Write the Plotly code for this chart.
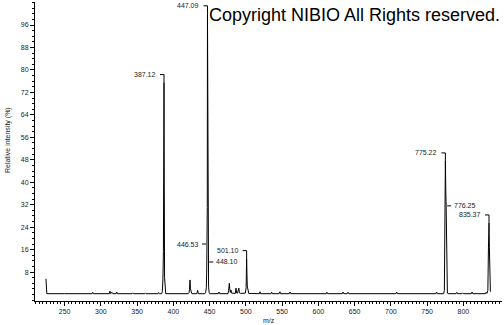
import plotly.graph_objects as go

# spectrum data (m/z, relative intensity %)
mz = [224.3, 224.9, 225.5, 250.0, 287.9, 288.8, 289.7, 311.7, 312.6, 313.4, 315.5, 316.5,
      321.2, 322.0, 322.8, 343.0, 344.0, 345.0, 360.5, 361.5, 362.5, 378.6, 379.6, 380.6,
      383.8, 384.8, 385.6, 386.3, 386.7, 387.12, 387.5, 387.9, 388.6, 389.5,
      420.5, 421.6, 422.3, 423.0, 423.6, 424.4, 425.5, 432.5, 433.5, 434.5,
      443.5, 444.6, 445.5, 446.0, 446.53, 446.8, 447.09, 447.4, 447.8, 448.10, 448.6, 449.3, 450.2,
      462.0, 463.0, 464.0, 475.4, 476.3, 477.2, 477.8, 478.6, 479.5, 480.3,
      485.5, 486.4, 487.2, 488.5, 490.3, 491.2, 493.0,
      499.3, 500.4, 500.8, 501.10, 501.5, 502.0, 502.8, 504.0,
      518.8, 519.6, 520.4, 534.8, 535.6, 536.4, 546.0, 547.0, 548.0, 560.0, 561.0, 562.0,
      611.0, 611.8, 612.6, 633.0, 634.0, 635.0, 640.0, 641.0, 642.0, 707.0, 708.0, 709.0,
      762.0, 763.0, 764.0, 772.8, 773.8, 774.6, 775.22, 775.7, 776.25, 776.7, 777.2, 778.0, 779.0,
      790.0, 791.0, 792.0, 798.0, 799.0, 800.0, 811.0, 812.0, 813.0,
      830.5, 831.5, 832.5, 833.8, 834.6, 835.37, 835.9, 836.5, 837.3]
intensity = [5.6, 2.6, 0.3, 0.3, 0.3, 0.8, 0.3, 0.3, 1.2, 0.3, 0.8, 0.3,
             0.3, 0.9, 0.3, 0.3, 0.6, 0.3, 0.3, 0.6, 0.3, 0.3, 0.7, 0.3,
             0.3, 1.0, 5.2, 15.3, 40.0, 75.5, 40.0, 6.0, 0.8, 0.3,
             0.3, 0.6, 1.8, 5.2, 2.0, 0.6, 0.3, 0.3, 1.5, 0.3,
             0.3, 0.8, 2.5, 8.0, 18.0, 31.0, 100.0, 77.0, 30.0, 11.6, 3.0, 0.8, 0.3,
             0.3, 0.9, 0.3, 0.3, 1.5, 4.0, 2.0, 0.8, 1.6, 0.5,
             0.4, 2.3, 0.6, 0.5, 2.3, 0.6, 0.4,
             0.5, 2.5, 7.5, 12.8, 7.5, 3.0, 1.2, 0.4,
             0.3, 1.0, 0.3, 0.3, 0.9, 0.3, 0.3, 1.0, 0.3, 0.3, 0.9, 0.3,
             0.3, 0.8, 0.3, 0.3, 0.9, 0.3, 0.3, 0.8, 0.3, 0.3, 0.9, 0.3,
             0.3, 0.9, 0.3, 0.3, 1.5, 24.0, 47.6, 38.0, 31.6, 24.0, 3.0, 0.5, 0.3,
             0.3, 0.8, 0.3, 0.3, 0.6, 0.3, 0.3, 0.9, 0.3,
             0.3, 0.8, 0.4, 1.5, 16.6, 25.5, 16.6, 5.0, 1.0]

# peak labels
label_mz = [387.12, 447.09, 446.53, 448.10, 501.10, 775.22, 776.25, 835.37]
label_style = ["bracket", "bracket", "left", "right", "bracket", "bracket", "right", "bracket"]

x_ticks = [250, 300, 350, 400, 450, 500, 550, 600, 650, 700, 750, 800]
y_ticks = [8, 16, 24, 32, 40, 48, 56, 64, 72, 80, 88, 96]

FONT = "Liberation Sans, Arial, sans-serif"
lookup = dict(zip(mz, intensity))

fig = go.Figure()
fig.add_trace(go.Scatter(x=mz, y=intensity, mode="lines",
                         line=dict(color="black", width=1), hoverinfo="skip"))

shapes = []
annotations = []
for m, style in zip(label_mz, label_style):
    v = lookup[m]
    txt = f"{m:.2f}"
    if style == "bracket":
        shapes.append(dict(type="path", xref="x", yref="y", xsizemode="pixel", ysizemode="pixel",
                           xanchor=m, yanchor=v, path="M-4,8 L0,8 L0,0",
                           line=dict(color="black", width=1)))
        annotations.append(dict(x=m, y=v, xref="x", yref="y", text=txt, showarrow=False,
                                xanchor="right", yanchor="middle", xshift=-6, yshift=8,
                                font=dict(family=FONT, size=7, color="#222")))
    elif style == "left":
        shapes.append(dict(type="path", xref="x", yref="y", xsizemode="pixel", ysizemode="pixel",
                           xanchor=m, yanchor=v, path="M-5,0 L-1,0",
                           line=dict(color="black", width=1)))
        annotations.append(dict(x=m, y=v, xref="x", yref="y", text=txt, showarrow=False,
                                xanchor="right", yanchor="middle", xshift=-6,
                                font=dict(family=FONT, size=7, color="#222")))
    else:
        shapes.append(dict(type="path", xref="x", yref="y", xsizemode="pixel", ysizemode="pixel",
                           xanchor=m, yanchor=v, path="M1,0 L5,0",
                           line=dict(color="black", width=1)))
        annotations.append(dict(x=m, y=v, xref="x", yref="y", text=txt, showarrow=False,
                                xanchor="left", yanchor="middle", xshift=6,
                                font=dict(family=FONT, size=7, color="#222")))

annotations.append(dict(x=0.368, y=1.0, xref="paper", yref="paper",
                        text="Copyright NIBIO All Rights reserved.", showarrow=False,
                        xanchor="left", yanchor="top", yshift=-1,
                        font=dict(family=FONT, size=18, color="black")))
annotations.append(dict(x=0.5, y=-0.064, xref="paper", yref="paper", text="m/z",
                        showarrow=False, xanchor="center", yanchor="middle",
                        font=dict(family=FONT, size=7, color="#222")))
annotations.append(dict(x=-0.058, y=0.538, xref="paper", yref="paper",
                        text="Relative intensity (%)", textangle=-90,
                        showarrow=False, xanchor="center", yanchor="middle",
                        font=dict(family=FONT, size=7, color="#222")))

fig.update_layout(
    width=504, height=325,
    margin=dict(l=35, r=2, t=2, b=24),
    paper_bgcolor="white", plot_bgcolor="white",
    showlegend=False,
    shapes=shapes, annotations=annotations,
    xaxis=dict(range=[209.2, 853.3], tickvals=x_ticks, ticks="outside", ticklen=4,
               tickcolor="black", showline=True, linecolor="black", linewidth=1,
               showgrid=False, zeroline=False,
               tickfont=dict(family=FONT, size=7, color="#222"),
               minor=dict(dtick=5, tick0=0, ticks="outside", ticklen=2, tickcolor="black")),
    yaxis=dict(range=[-2.3, 104.2], tickvals=y_ticks, ticks="outside", ticklen=4,
               tickcolor="black", showline=True, linecolor="black", linewidth=1,
               showgrid=False, zeroline=False,
               tickfont=dict(family=FONT, size=7, color="#222"),
               minor=dict(dtick=2, tick0=0, ticks="outside", ticklen=2, tickcolor="black")),
)

fig.write_html("out.html")
